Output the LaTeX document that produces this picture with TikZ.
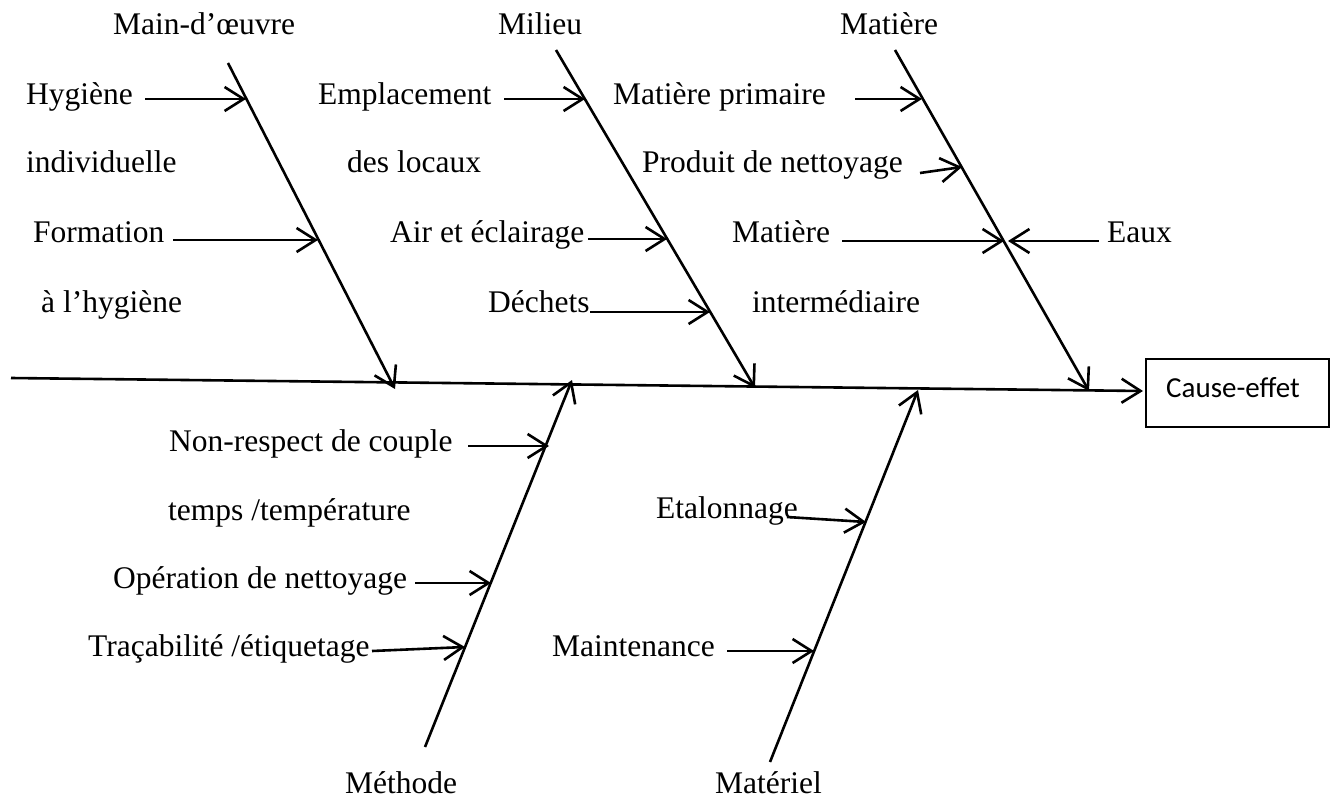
\documentclass[tikz,border=0pt]{standalone}
\usepackage{fontspec}
\setmainfont{Liberation Serif}
\newfontfamily\boxfont{Carlito}
\usetikzlibrary{arrows.meta}
\begin{document}
\begin{tikzpicture}[x=1pt,y=-1pt,
  lbl/.style={anchor=base west, inner sep=0pt, font=\fontsize{31.5}{36}\selectfont},
  bone/.style={line width=2.6pt},
  feed/.style={line width=2.6pt, -{Straight Barb[length=19pt,width=24pt]}},
]
\useasboundingbox (0,0) rectangle (1337,802);

% effect box and its label
\node[draw, line width=1.5pt, minimum width=183pt, minimum height=68pt, inner sep=0pt] (effect) at (1237.5,393) {};
\node[anchor=base west, inner sep=0pt, font=\boxfont\fontsize{29}{34}\selectfont] (effecttxt) at (1166,397) {Cause-effet};

% main spine
\coordinate (sp0) at (11,378);
\coordinate (sp1) at (1143,391);
\draw[feed] (sp0) -- (sp1);

% category labels
\node[lbl] (mo) at (113,35) {Main-d’œuvre};
\node[lbl] (mi) at (498,35) {Milieu};
\node[lbl] (ma) at (840,35) {Matière};
\node[lbl] (me) at (345,793) {Méthode};
\node[lbl] (mt) at (715,793) {Matériel};

% bones
\coordinate (moT) at (228,63);  \coordinate (moB) at (395,389);
\coordinate (miT) at (556,50);  \coordinate (miB) at (755,388);
\coordinate (maT) at (895,50);  \coordinate (maB) at (1089,391);
\coordinate (meB) at (425,747); \coordinate (meT) at (572,380);
\coordinate (mtB) at (770,762); \coordinate (mtT) at (918,390);
\draw[feed] (moT) -- (moB);
\draw[feed] (miT) -- (miB);
\draw[feed] (maT) -- (maB);
\draw[feed] (meB) -- (meT);
\draw[feed] (mtB) -- (mtT);

% Main-d'oeuvre causes
\node[lbl] (hyg) at (26,105) {Hygiène};
\node[lbl] (ind) at (26,173) {individuelle};
\node[lbl] (for) at (33,242) {Formation};
\node[lbl] (alh) at (41,312) {à l’hygiène};
\coordinate (hygS) at (145,99);  \coordinate (hygE) at (246,99);
\coordinate (forS) at (173,240); \coordinate (forE) at (318,240);
\draw[feed] (hygS) -- (hygE);
\draw[feed] (forS) -- (forE);

% Milieu causes
\node[lbl] (emp) at (318,105) {Emplacement};
\node[lbl] (loc) at (347,173) {des locaux};
\node[lbl] (air) at (390,242) {Air et éclairage};
\node[lbl] (dec) at (488,312) {Déchets};
\coordinate (empS) at (504,99);  \coordinate (empE) at (585,99);
\coordinate (airS) at (588,239); \coordinate (airE) at (667,239);
\coordinate (decS) at (590,312); \coordinate (decE) at (710,312);
\draw[feed] (empS) -- (empE);
\draw[feed] (airS) -- (airE);
\draw[feed] (decS) -- (decE);

% Matiere causes
\node[lbl] (mpr) at (613,105) {Matière primaire};
\node[lbl] (pro) at (642,173) {Produit de nettoyage};
\node[lbl] (mat) at (732,242) {Matière};
\node[lbl] (int) at (752,312) {intermédiaire};
\node[lbl] (eau) at (1107,243) {Eaux};
\coordinate (mprS) at (855,99);  \coordinate (mprE) at (922,99);
\coordinate (proS) at (920,173); \coordinate (proE) at (962,167);
\coordinate (matS) at (842,241); \coordinate (matE) at (1004,241);
\coordinate (eauS) at (1099,241); \coordinate (eauE) at (1008,241);
\draw[feed] (mprS) -- (mprE);
\draw[feed] (proS) -- (proE);
\draw[feed] (matS) -- (matE);
\draw[feed] (eauS) -- (eauE);

% Methode causes
\node[lbl] (nrc) at (169,451) {Non-respect de couple};
\node[lbl] (ttp) at (168,520) {temps /température};
\node[lbl] (opn) at (113,588) {Opération de nettoyage};
\node[lbl] (tra) at (88,656) {Traçabilité /étiquetage};
\coordinate (nrcS) at (468,446); \coordinate (nrcE) at (549,446);
\coordinate (opnS) at (415,583); \coordinate (opnE) at (491,583);
\coordinate (traS) at (372,651); \coordinate (traE) at (465,647);
\draw[feed] (nrcS) -- (nrcE);
\draw[feed] (opnS) -- (opnE);
\draw[feed] (traS) -- (traE);

% Materiel causes
\node[lbl] (eta) at (656,518) {Etalonnage};
\node[lbl] (mnt) at (552,656) {Maintenance};
\coordinate (etaS) at (787,517); \coordinate (etaE) at (866,522);
\coordinate (mntS) at (727,651); \coordinate (mntE) at (814,651);
\draw[feed] (etaS) -- (etaE);
\draw[feed] (mntS) -- (mntE);
\end{tikzpicture}
\end{document}
